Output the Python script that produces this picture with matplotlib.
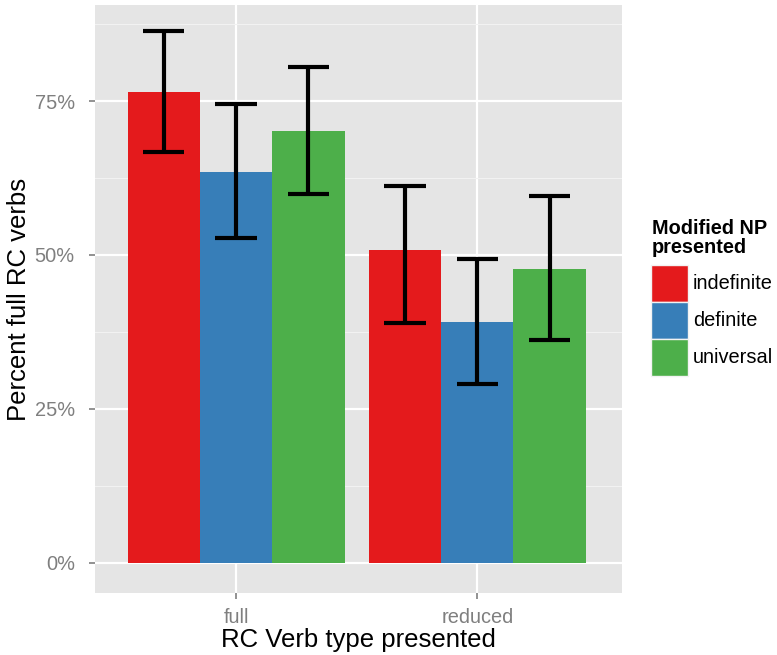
import matplotlib
matplotlib.use("Agg")
import matplotlib.pyplot as plt
from matplotlib.patches import Rectangle
import numpy as np

plt.rcParams["font.family"] = ["Liberation Sans", "DejaVu Sans"]

groups = ["full", "reduced"]
series = ["indefinite", "definite", "universal"]
colors = ["#E41A1C", "#377EB8", "#4DAF4A"]
values = {
    "indefinite": [76.5, 50.8],
    "definite": [63.5, 39.1],
    "universal": [70.1, 47.7],
}
err_low = {
    "indefinite": [66.7, 39.0],
    "definite": [52.8, 29.1],
    "universal": [59.9, 36.2],
}
err_high = {
    "indefinite": [86.4, 61.2],
    "definite": [74.5, 49.4],
    "universal": [80.5, 59.6],
}
yticks = [0, 25, 50, 75]
ytick_labels = ["0%", "25%", "50%", "75%"]

fig = plt.figure(figsize=(7.77, 6.55), dpi=100)
ax = fig.add_axes([95/777, 62/655, 527/777, 588/655])
ax.set_facecolor("#E5E5E5")

x = np.arange(1, len(groups) + 1)
bw = 0.3
for i, s in enumerate(series):
    pos = x + (i - 1) * bw
    ax.bar(pos, values[s], width=bw, color=colors[i], zorder=3, linewidth=0)
    for p, lo, hi in zip(pos, err_low[s], err_high[s]):
        ax.plot([p, p], [lo, hi], color="black", lw=3.0, zorder=4, solid_capstyle="butt")
        ax.plot([p - 0.086, p + 0.086], [lo, lo], color="black", lw=3.0, zorder=4, solid_capstyle="butt")
        ax.plot([p - 0.086, p + 0.086], [hi, hi], color="black", lw=3.0, zorder=4, solid_capstyle="butt")

ax.set_xlim(0.415, 2.6)
ax.set_ylim(-4.9, 90.6)
ax.set_xticks(x)
ax.set_xticklabels(groups)
ax.set_yticks(yticks)
ax.set_yticklabels(ytick_labels)
for m in [12.5, 37.5, 62.5, 87.5]:
    ax.axhline(m, color="#F2F2F2", lw=0.8, zorder=1)
ax.grid(True, color="white", lw=1.6, zorder=2)
ax.set_axisbelow(True)
for sp in ax.spines.values():
    sp.set_visible(False)
ax.tick_params(axis="both", colors="#7F7F7F", labelsize=14.4, length=4.5, width=1.2)
ax.tick_params(axis="y", pad=10)
ax.tick_params(axis="x", pad=6)
for lbl in ax.get_xticklabels() + ax.get_yticklabels():
    lbl.set_color("#7F7F7F")
ax.set_xlabel("RC Verb type presented", fontsize=18.5, color="black", labelpad=1)
ax.set_ylabel("Percent full RC verbs", fontsize=18.5, color="black", labelpad=2.5)

# legend
fig.text(652/777, 1 - 238/655, "Modified NP\npresented", fontsize=14.3, fontweight="bold",
         ha="left", va="center", linespacing=1.0)
for i, s in enumerate(series):
    y0 = 265 + i * 37
    fig.patches.append(Rectangle((651/777, 1 - (y0 + 37)/655), 37/777, 37/655,
                                 transform=fig.transFigure, facecolor=colors[i],
                                 edgecolor="#F2F2F2", lw=1))
    fig.text(693/777, 1 - (y0 + 18.5)/655, s, fontsize=14.4, ha="left", va="center")

fig.savefig("out.png", dpi=100)
